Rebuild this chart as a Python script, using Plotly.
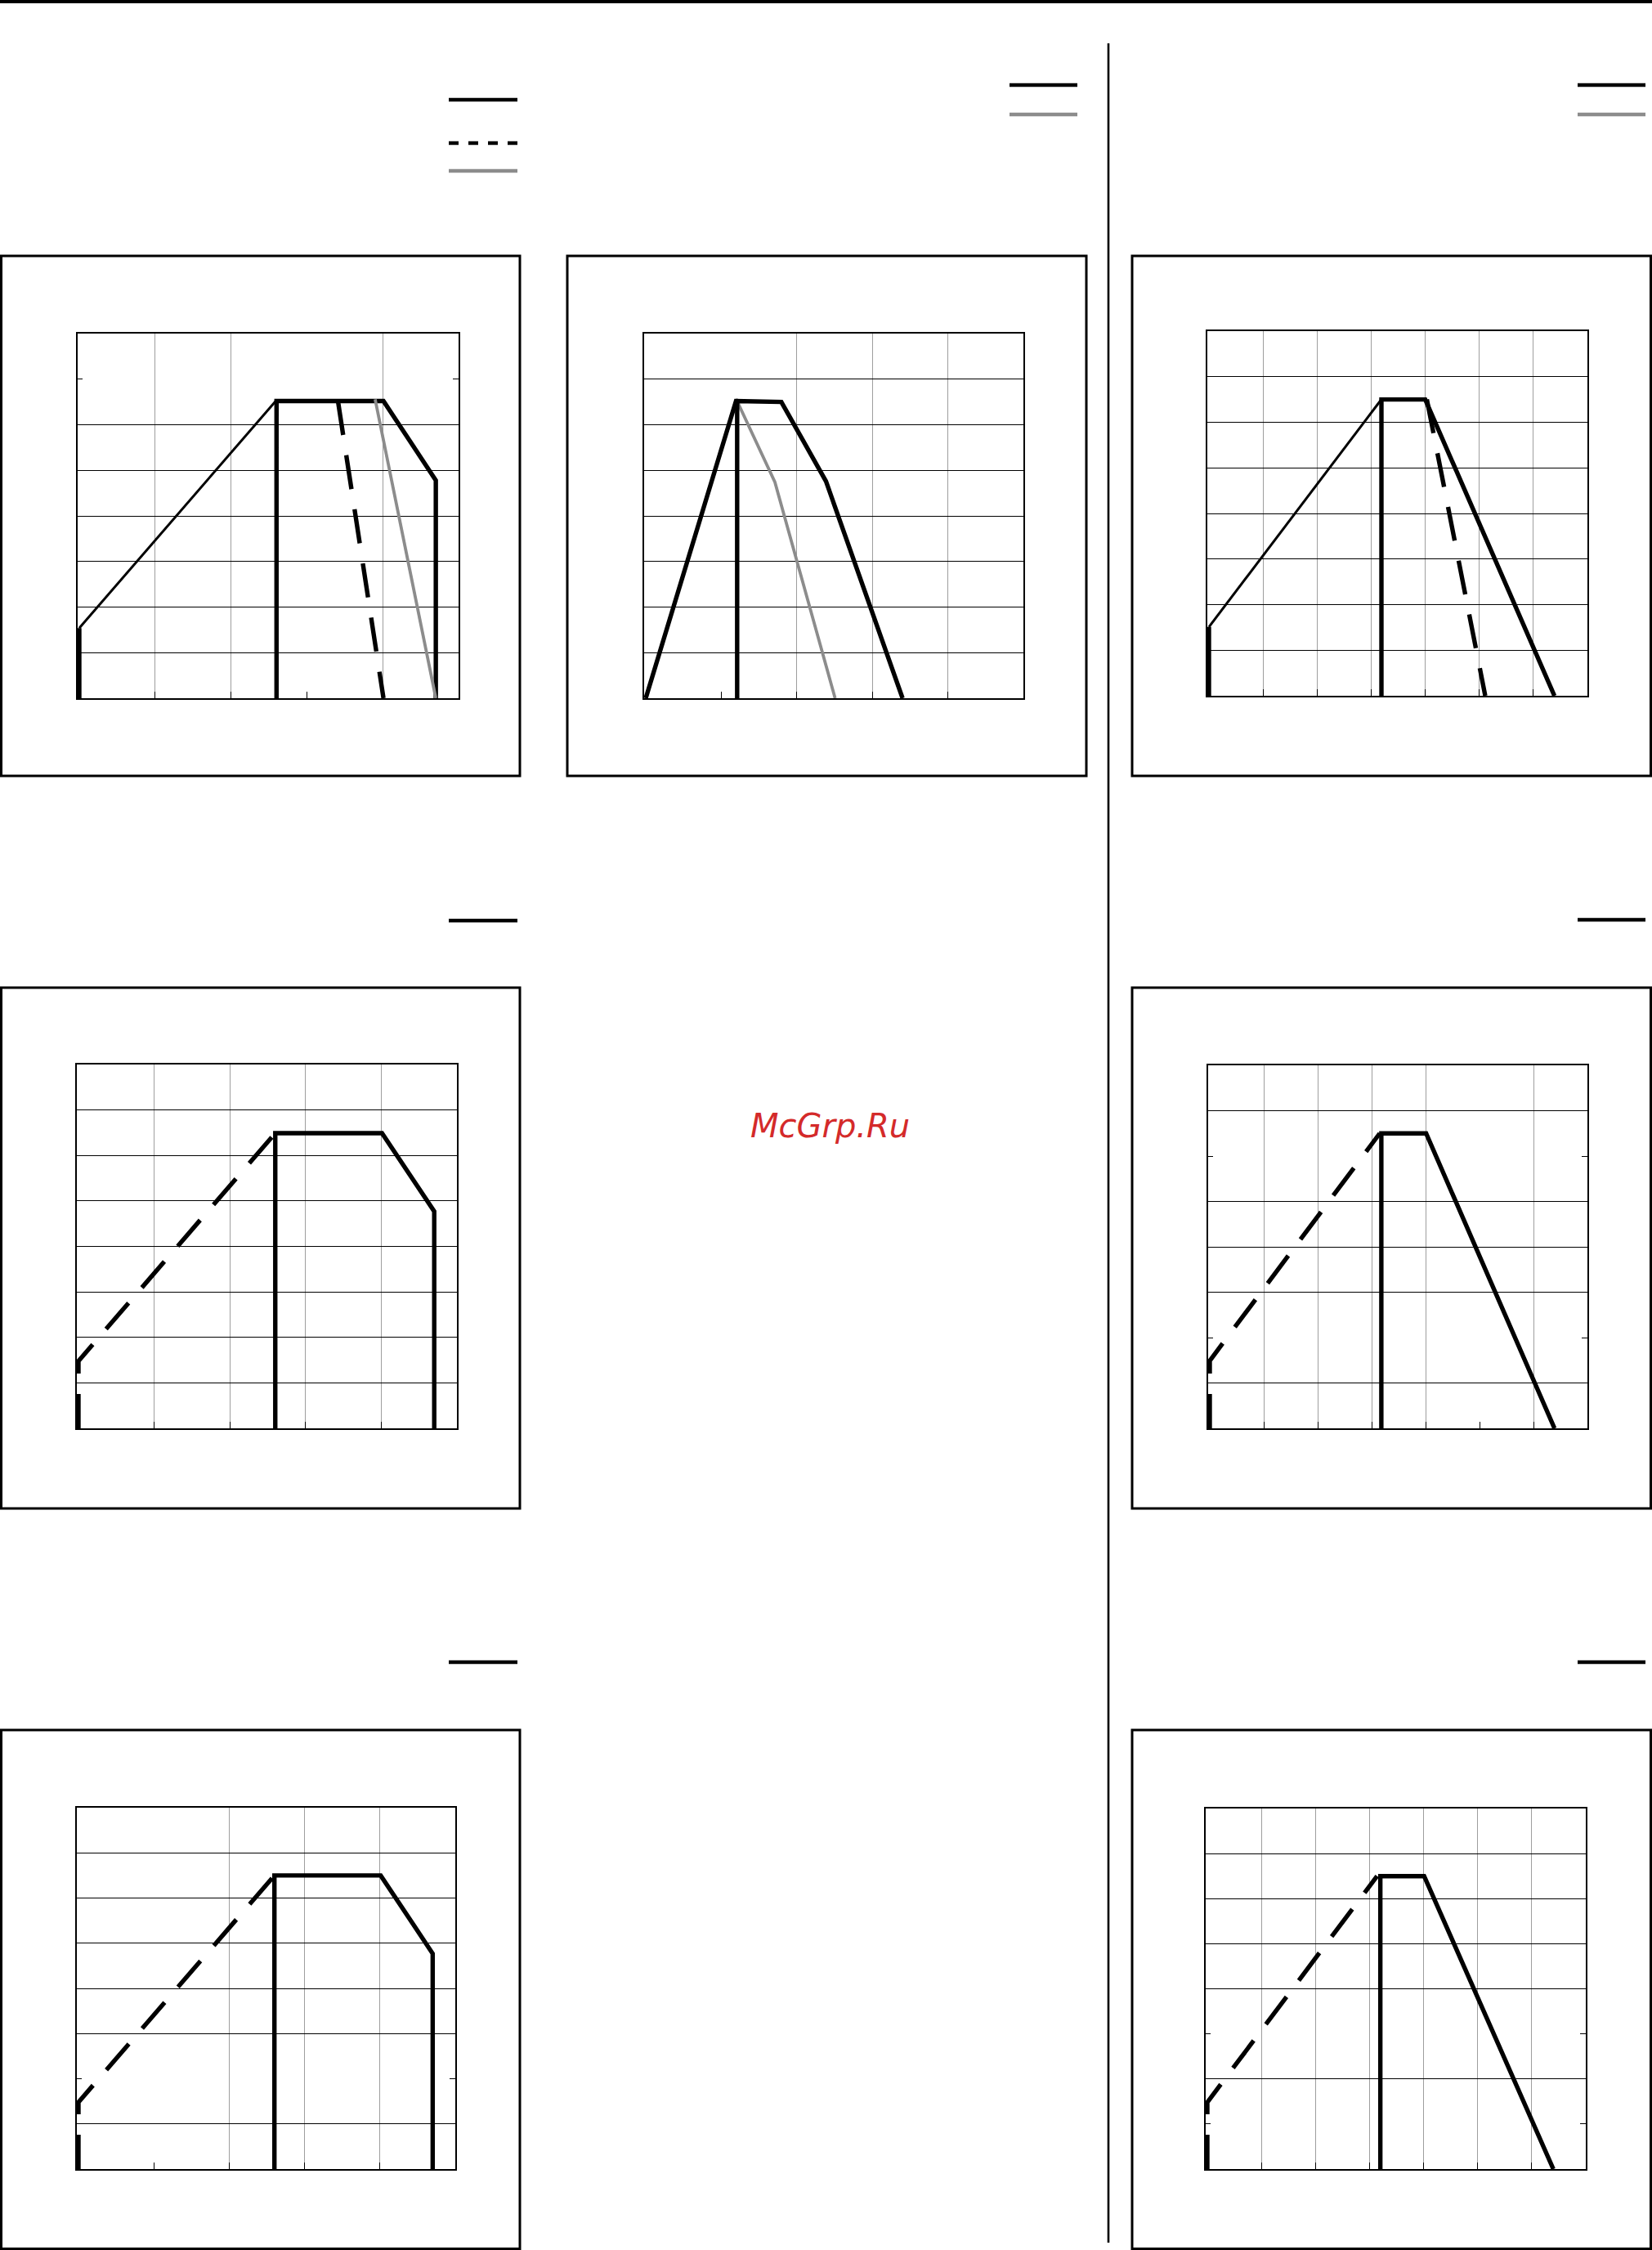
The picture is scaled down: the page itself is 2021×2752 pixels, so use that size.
import plotly.graph_objects as go

W, H = 2021, 2752

# ---------------- data (axis units) ----------------
# Panel 1 (row 1, left)
p1_thick_x = [0, 0, None, 2.60, 2.60, 4.01, 4.70, 4.70]
p1_thick_y = [0, 1.54, None, 0, 6.52, 6.52, 4.78, 0]
p1_thin_x = [0, 2.59]
p1_thin_y = [1.54, 6.52]
p1_dash_x = [3.41, 4.01]
p1_dash_y = [6.52, 0]
p1_gray_x = [3.90, 4.70]
p1_gray_y = [6.56, 0]

# Panel 2 (row 1, middle)
p2_thick_x = [0, 1.195, 1.795, 2.386, 3.40, None, 1.21, 1.21]
p2_thick_y = [0, 6.52, 6.50, 4.76, 0, None, 0, 6.50]
p2_gray_x = [1.195, 1.69, 1.71, 2.507]
p2_gray_y = [6.57, 4.80, 4.74, 0]

# Panel 3 (row 1, right)
p3_thick_x = [0, 0, None, 3.19, 3.19, 4.00, 6.39]
p3_thick_y = [0, 1.51, None, 0, 6.50, 6.50, 0]
p3_thin_x = [0, 3.175]
p3_thin_y = [1.51, 6.48]
p3_dash_x = [4.03, 5.11]
p3_dash_y = [6.50, 0]

# Panel 4 (row 2, left)
p4_dash_x = [0, 0, 2.60]
p4_dash_y = [0, 1.48, 6.49]
p4_thick_x = [2.60, 2.60, 4.01, 4.70, 4.70]
p4_thick_y = [0, 6.49, 6.49, 4.77, 0]

# Panel 5 (row 2, right)
p5_dash_x = [0, 0, 3.15]
p5_dash_y = [0, 1.49, 6.50]
p5_thick_x = [3.18, 3.18, 4.01, 6.39]
p5_thick_y = [0, 6.50, 6.50, 0]

# Panel 6 (row 3, left)
p6_dash_x = [0, 0, 2.60]
p6_dash_y = [0, 1.48, 6.50]
p6_thick_x = [2.60, 2.60, 4.01, 4.70, 4.70]
p6_thick_y = [0, 6.50, 6.50, 4.77, 0]

# Panel 7 (row 3, right)
p7_dash_x = [0, 0, 3.14]
p7_dash_y = [0, 1.48, 6.50]
p7_thick_x = [3.20, 3.20, 4.01, 6.40]
p7_thick_y = [0, 6.50, 6.50, 0]

# ---------------- styling ----------------
BLACK = "#000000"
GRAY = "#8c8c8c"
THICK = 5.4
THIN = 3.0
DASH = "42px,25px"


def px(x):
    return x / W


def py(y):
    return 1 - y / H


fig = go.Figure()

panels = [
    dict(box=(97, 408, 561, 854), nx=5, xgrid=[1, 2, 4], xminor=[3], ygrid=[1, 2, 3, 4, 5, 6], yminor=[7]),
    dict(box=(790, 408, 1252, 854), nx=5, xgrid=[2, 3, 4], xminor=[1], ygrid=[1, 2, 3, 4, 5, 6, 7], yminor=[]),
    dict(box=(1479, 405, 1942, 851), nx=7, xgrid=[1, 2, 3, 4, 5, 6], xminor=[], ygrid=[1, 2, 3, 4, 5, 6, 7], yminor=[]),
    dict(box=(96, 1302, 559, 1747), nx=5, xgrid=[1, 2, 3, 4], xminor=[], ygrid=[1, 2, 3, 4, 5, 6, 7], yminor=[]),
    dict(box=(1480, 1303, 1942, 1747), nx=7, xgrid=[1, 2, 3, 4, 6], xminor=[5], ygrid=[1, 3, 4, 5, 7], yminor=[2, 6]),
    dict(box=(96, 2211, 557, 2653), nx=5, xgrid=[2, 3, 4], xminor=[1], ygrid=[1, 3, 4, 5, 6, 7], yminor=[2]),
    dict(box=(1477, 2212, 1940, 2653), nx=7, xgrid=[1, 2, 3, 4, 5, 6], xminor=[], ygrid=[2, 4, 5, 6, 7], yminor=[1, 3]),
]

series = [
    [(p1_thick_x, p1_thick_y, BLACK, THICK, "solid"),
     (p1_thin_x, p1_thin_y, BLACK, THIN, "solid"),
     (p1_dash_x, p1_dash_y, BLACK, THICK, DASH),
     (p1_gray_x, p1_gray_y, GRAY, 3.8, "solid")],
    [(p2_gray_x, p2_gray_y, GRAY, 3.8, "solid"),
     (p2_thick_x, p2_thick_y, BLACK, THICK, "solid")],
    [(p3_thick_x, p3_thick_y, BLACK, THICK, "solid"),
     (p3_thin_x, p3_thin_y, BLACK, THIN, "solid"),
     (p3_dash_x, p3_dash_y, BLACK, THICK, DASH)],
    [(p4_dash_x, p4_dash_y, BLACK, THICK, DASH),
     (p4_thick_x, p4_thick_y, BLACK, THICK, "solid")],
    [(p5_dash_x, p5_dash_y, BLACK, THICK, DASH),
     (p5_thick_x, p5_thick_y, BLACK, THICK, "solid")],
    [(p6_dash_x, p6_dash_y, BLACK, THICK, DASH),
     (p6_thick_x, p6_thick_y, BLACK, THICK, "solid")],
    [(p7_dash_x, p7_dash_y, BLACK, THICK, DASH),
     (p7_thick_x, p7_thick_y, BLACK, THICK, "solid")],
]

layout_axes = {}
for i, (p, ser) in enumerate(zip(panels, series), start=1):
    x0, y0, x1, y1 = p["box"]
    unit = (x1 - x0) / p["nx"]
    pad = 2.5 / unit  # keep lines on x=0 fully visible
    xa = "xaxis" if i == 1 else f"xaxis{i}"
    ya = "yaxis" if i == 1 else f"yaxis{i}"
    xr = "x" if i == 1 else f"x{i}"
    yr = "y" if i == 1 else f"y{i}"
    layout_axes[xa] = dict(
        domain=[px(x0 - 2.5), px(x1)], anchor=yr, range=[-pad, p["nx"]],
        showgrid=True, gridcolor="#9e9e9e", gridwidth=1.2,
        tickmode="array", tickvals=p["xgrid"], ticks="inside", ticklen=8,
        tickwidth=1.4, tickcolor=BLACK, showticklabels=False,
        minor=dict(tickmode="array", tickvals=p["xminor"], ticks="inside", ticklen=8,
                   tickwidth=1.4, tickcolor=BLACK, showgrid=False),
        showline=True, linecolor=BLACK, linewidth=1.6, mirror=True, zeroline=False,
        fixedrange=True,
    )
    layout_axes[ya] = dict(
        domain=[py(y1), py(y0)], anchor=xr, range=[0, 8],
        showgrid=True, gridcolor=BLACK, gridwidth=1.4,
        tickmode="array", tickvals=p["ygrid"], ticks="inside", ticklen=7,
        tickwidth=1.4, tickcolor=BLACK, showticklabels=False,
        minor=dict(tickmode="array", tickvals=p["yminor"], ticks="inside", ticklen=7,
                   tickwidth=1.4, tickcolor=BLACK, showgrid=False),
        showline=True, linecolor=BLACK, linewidth=1.6, mirror="ticks", zeroline=False,
        fixedrange=True,
    )
    for sx, sy, col, wid, dash in ser:
        fig.add_trace(go.Scatter(
            x=sx, y=sy, mode="lines", xaxis=xr, yaxis=yr,
            line=dict(color=col, width=wid, dash=dash),
            connectgaps=False, hoverinfo="skip", showlegend=False,
        ))

shapes = []
# top rule
shapes.append(dict(type="line", xref="paper", yref="paper", x0=0, x1=1, y0=py(2), y1=py(2),
                   line=dict(color=BLACK, width=4)))
# column divider
shapes.append(dict(type="line", xref="paper", yref="paper", x0=px(1356), x1=px(1356),
                   y0=py(53), y1=py(2743), line=dict(color=BLACK, width=2.6)))
# panel frames
frames = [(1.5, 313, 636, 949), (694, 313, 1329, 949), (1385, 313, 2019.5, 949),
          (1.5, 1208, 636, 1845), (1385, 1208, 2019.5, 1845),
          (1.5, 2116, 636, 2750.5), (1385, 2116, 2019.5, 2750.5)]
for fx0, fy0, fx1, fy1 in frames:
    shapes.append(dict(type="rect", xref="paper", yref="paper", x0=px(fx0), x1=px(fx1),
                       y0=py(fy1), y1=py(fy0), line=dict(color=BLACK, width=3),
                       fillcolor="rgba(0,0,0,0)", layer="below"))
# legend keys (labels absent in the source)
keys = [(549, 633, 122, BLACK, "solid"), (549, 633, 175, BLACK, "12px,12px"), (549, 633, 209, GRAY, "solid"),
        (1235, 1318, 104, BLACK, "solid"), (1235, 1318, 140, GRAY, "solid"),
        (1930, 2013, 104, BLACK, "solid"), (1930, 2013, 140, GRAY, "solid"),
        (549, 633, 1126, BLACK, "solid"), (1930, 2013, 1125, BLACK, "solid"),
        (549, 633, 2033, BLACK, "solid"), (1930, 2013, 2033, BLACK, "solid")]
for kx0, kx1, ky, col, dash in keys:
    shapes.append(dict(type="line", xref="paper", yref="paper", x0=px(kx0), x1=px(kx1),
                       y0=py(ky), y1=py(ky), line=dict(color=col, width=4.4, dash=dash)))

fig.update_layout(
    width=W, height=H, margin=dict(l=0, r=0, t=0, b=0),
    paper_bgcolor="white", plot_bgcolor="white", showlegend=False,
    shapes=shapes,
    annotations=[dict(text="McGrp.Ru", xref="paper", yref="paper", x=px(1015), y=py(1377),
                      xanchor="center", yanchor="middle", showarrow=False,
                      font=dict(family="DejaVu Sans", size=40, color="#d42a2a", style="italic"))],
    **layout_axes,
)

fig.write_html("out.html", config={"displayModeBar": False},
               post_script="document.body.style.margin='0';document.body.style.padding='0';")
